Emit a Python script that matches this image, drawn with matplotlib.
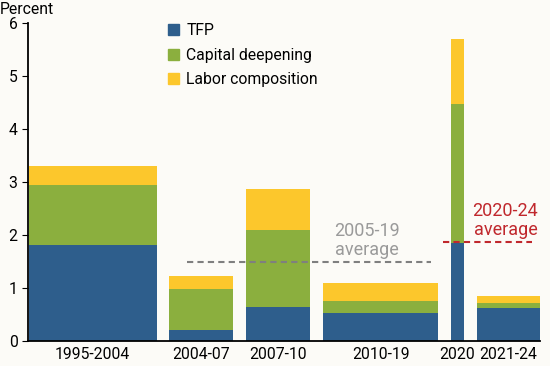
import matplotlib.pyplot as plt
from matplotlib.patches import Patch

plt.rcParams['font.family'] = ['Roboto', 'DejaVu Sans']

periods = ['1995-2004', '2004-07', '2007-10', '2010-19', '2020', '2021-24']
widths = [10, 5, 5, 9, 1, 5]
tfp = [1.81, 0.21, 0.65, 0.53, 1.85, 0.62]
capital = [1.13, 0.77, 1.435, 0.23, 2.62, 0.10]
labor = [0.37, 0.25, 0.775, 0.33, 1.23, 0.12]

avg_0519 = 1.49
avg_2024 = 1.86

blue = '#2E5E8C'
green = '#8BAF3E'
yellow = '#FCC72C'
bg = '#FCFBF7'

fig = plt.figure(figsize=(5.5, 3.66), dpi=100, facecolor=bg)
ax = fig.add_axes([28/550, 25/366, 512/550, 318/366], facecolor=bg)

# bar left edges, one unit gap between bars
lefts = []
x = 0.05
for w in widths:
    lefts.append(x)
    x += w + 1
centers = [l + w / 2 for l, w in zip(lefts, widths)]

bot2 = [a + b for a, b in zip(tfp, capital)]
ax.bar(lefts, tfp, width=widths, align='edge', color=blue)
ax.bar(lefts, capital, width=widths, bottom=tfp, align='edge', color=green)
ax.bar(lefts, labor, width=widths, bottom=bot2, align='edge', color=yellow)

# average lines
ax.plot([12.4, 31.5], [avg_0519, avg_0519], color='#7f7f7f', ls=(0, (3, 2)), lw=1.5)
ax.text(26.45, 1.90, '2005-19\naverage', color='#9a9a9a', fontsize=13,
        ha='center', va='center', linespacing=1.1)
ax.plot([32.4, 39.4], [avg_2024, avg_2024], color='#C0282D', ls=(0, (3, 2)), lw=1.5)
ax.text(37.3, 2.27, '2020-24\naverage', color='#C0282D', fontsize=13,
        ha='center', va='center', linespacing=1.1)

ax.set_xlim(0, 40)
ax.set_ylim(0, 6)
ax.set_xticks(centers)
ax.set_xticklabels(periods, fontsize=11.3)
ax.tick_params(axis='x', length=0, pad=4)
ax.tick_params(axis='y', length=4, labelsize=11.3, direction='out')
ax.set_yticks(range(7))
for s in ['top', 'right']:
    ax.spines[s].set_visible(False)
ax.spines['left'].set_linewidth(1.3)
ax.spines['bottom'].set_linewidth(1.3)

fig.text(0.0, 0.995, 'Percent', fontsize=11.3, ha='left', va='top')

handles = [Patch(color=blue, label='TFP'),
           Patch(color=green, label='Capital deepening'),
           Patch(color=yellow, label='Labor composition')]
ax.legend(handles=handles, loc='upper left', bbox_to_anchor=(0.245, 1.045),
          frameon=False, fontsize=11.3, handlelength=0.7, handleheight=0.7,
          handletextpad=0.5, labelspacing=0.62)

fig.savefig('out.png', dpi=100, facecolor=bg)
